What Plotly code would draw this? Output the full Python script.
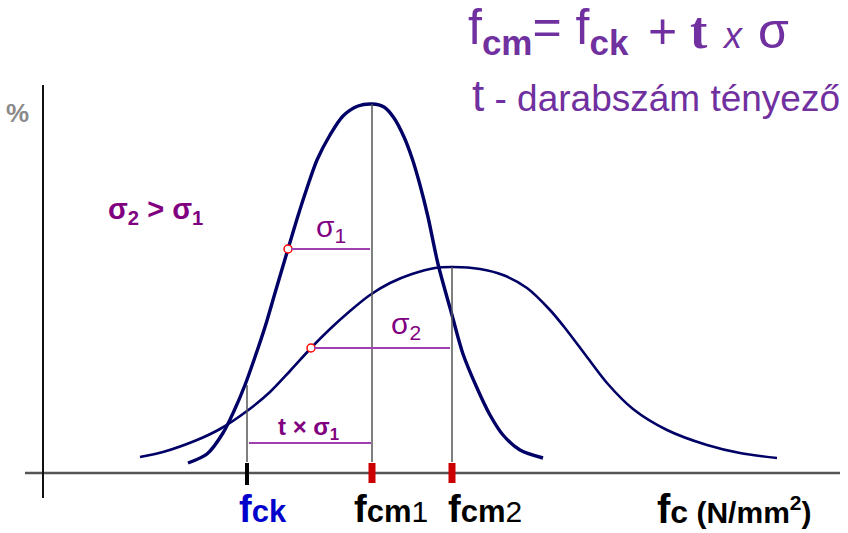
import plotly.graph_objects as go

# Diagram units: x along the strength axis, y = relative frequency (%) height above the axis
# Narrow distribution (sigma 1), traced points
c1_x = [188, 207, 223, 234, 245, 255, 265, 275, 288, 297, 307, 317, 330, 343, 358, 372,
        384, 394, 404, 412, 420, 428, 438, 452, 463, 477, 490, 503, 520, 543]
c1_y = [10, 19, 40, 62, 88, 116, 146, 180, 224, 254, 285, 313, 338, 357, 367, 369,
        366, 355, 336, 315, 288, 256, 209, 158, 119, 85, 58, 38, 23, 15]

# Wide distribution (sigma 2), traced points
c2_x = [140, 163, 197, 220, 247, 270, 290, 311, 330, 350, 370, 390, 412, 435, 453,
        480, 503, 527, 550, 565, 587, 607, 633, 667, 707, 740, 777]
c2_y = [16, 21, 33, 44, 62, 81, 102, 125, 144, 162, 178, 190, 199, 205, 206,
        204, 198, 185, 163, 145, 116, 90, 64, 43, 28, 20, 15]

# Characteristic and mean strengths
f_ck = 247
f_cm1 = 372
f_cm2 = 452
sigma1 = 84
sigma2 = 141
peak1 = 369
peak2 = 206
level_sigma1 = 224
level_sigma2 = 125
level_tsigma = 30
fck_top = 88

NAVY = "#000066"
PURPLE_TXT = "#800080"
PURPLE_LN = "#A040B0"
TITLE = "#7030A0"
GUIDE = "#555555"
FONT = "Liberation Sans, Arial, sans-serif"
SERIF = "Liberation Serif, Times New Roman, serif"

fig = go.Figure()

# Distribution curves
fig.add_trace(go.Scatter(x=c2_x, y=c2_y, mode="lines",
                         line=dict(color=NAVY, width=2.6, shape="spline", smoothing=0.8),
                         hoverinfo="skip", showlegend=False))
fig.add_trace(go.Scatter(x=c1_x, y=c1_y, mode="lines",
                         line=dict(color=NAVY, width=3.4, shape="spline", smoothing=0.8),
                         hoverinfo="skip", showlegend=False))

shapes = []
# Axes
shapes.append(dict(type="line", x0=25, x1=840, y0=0, y1=0, line=dict(color=GUIDE, width=2.5)))
shapes.append(dict(type="line", x0=43, x1=43, y0=-25, y1=388, line=dict(color="#111111", width=2)))
# Guide verticals
shapes.append(dict(type="line", x0=f_cm1, x1=f_cm1, y0=11, y1=peak1, line=dict(color=GUIDE, width=1.5)))
shapes.append(dict(type="line", x0=f_cm2, x1=f_cm2, y0=11, y1=peak2, line=dict(color=GUIDE, width=1.5)))
shapes.append(dict(type="line", x0=f_ck, x1=f_ck, y0=11, y1=fck_top, line=dict(color=GUIDE, width=1.5)))
# Sigma spans
shapes.append(dict(type="line", x0=f_cm1 - sigma1 + 3, x1=f_cm1 - 2, y0=level_sigma1, y1=level_sigma1,
                   line=dict(color=PURPLE_LN, width=2)))
shapes.append(dict(type="line", x0=f_cm2 - sigma2 + 3, x1=f_cm2 - 2, y0=level_sigma2, y1=level_sigma2,
                   line=dict(color=PURPLE_LN, width=2)))
shapes.append(dict(type="line", x0=f_ck + 2, x1=f_cm1 - 1, y0=level_tsigma, y1=level_tsigma,
                   line=dict(color=PURPLE_LN, width=2)))
# Axis ticks
shapes.append(dict(type="line", x0=f_ck, x1=f_ck, y0=-12, y1=10, line=dict(color="#000000", width=4)))
for xm in (f_cm1, f_cm2):
    shapes.append(dict(type="line", x0=xm, x1=xm, y0=-10, y1=10, line=dict(color="#CC0000", width=7)))
fig.update_layout(shapes=shapes)

# Sigma points on the curves
fig.add_trace(go.Scatter(x=[f_cm1 - sigma1, f_cm2 - sigma2], y=[level_sigma1, level_sigma2], mode="markers",
                         marker=dict(symbol="circle", size=8, color="white", line=dict(color="#FF0000", width=1.5)),
                         hoverinfo="skip", showlegend=False))

ann = []


def label(x, y, text, size, color, xanchor="center", yanchor="middle", family=FONT):
    ann.append(dict(x=x, y=y, xref="x", yref="y", text=text, showarrow=False, xanchor=xanchor,
                    yanchor=yanchor, font=dict(family=family, size=size, color=color)))


label(17, 360, "<b>%</b>", 26, "#8A8A8A")
label(155, 262, "<b>σ<sub>2</sub> &gt; σ<sub>1</sub></b>", 29, PURPLE_TXT)
label(331, 245, "σ<sub>1</sub>", 30, PURPLE_TXT)
label(406, 148, "σ<sub>2</sub>", 30, PURPLE_TXT)
label(308, 45, "<b>t × σ<sub>1</sub></b>", 24, PURPLE_TXT)

# Axis labels
label(237, -36, "<b>f<span style='font-size:31px'>ck</span></b>", 38, "#0000CC", xanchor="left")
label(352, -36, "<b>f<span style='font-size:31px'>cm</span></b><span style='font-size:30px'>1</span>", 38,
      "#000000", xanchor="left")
label(446, -36, "<b>f<span style='font-size:31px'>cm</span></b><span style='font-size:30px'>2</span>", 38,
      "#000000", xanchor="left")
label(655, -36, "<b>f<span style='font-size:32px'>c</span><span style='font-size:30px'> (N/mm<sup>2</sup>)</span></b>",
      40, "#000000", xanchor="left")

# Formula, one piece per glyph group so each keeps its own size on a shared baseline
label(466, 443, "f<sub><b>cm</b></sub>= f<sub><b>ck</b></sub>", 50, TITLE, xanchor="left")
label(662, 442.3, "+", 50, TITLE)
label(699, 442.5, "<b>t</b>", 52, TITLE, family=SERIF)
label(733, 437.5, "<i>x</i>", 36, TITLE)
label(773, 442.3, "σ", 50, TITLE)
label(470, 378, "t<span style='font-size:37px'> - darabszám tényező</span>", 44, TITLE, xanchor="left")

fig.update_layout(
    annotations=ann,
    width=848, height=533,
    margin=dict(l=0, r=0, t=0, b=0),
    paper_bgcolor="white", plot_bgcolor="white",
    xaxis=dict(range=[0, 848], visible=False, fixedrange=True),
    yaxis=dict(range=[-60, 473], visible=False, fixedrange=True),
)

fig.write_html("out.html")
